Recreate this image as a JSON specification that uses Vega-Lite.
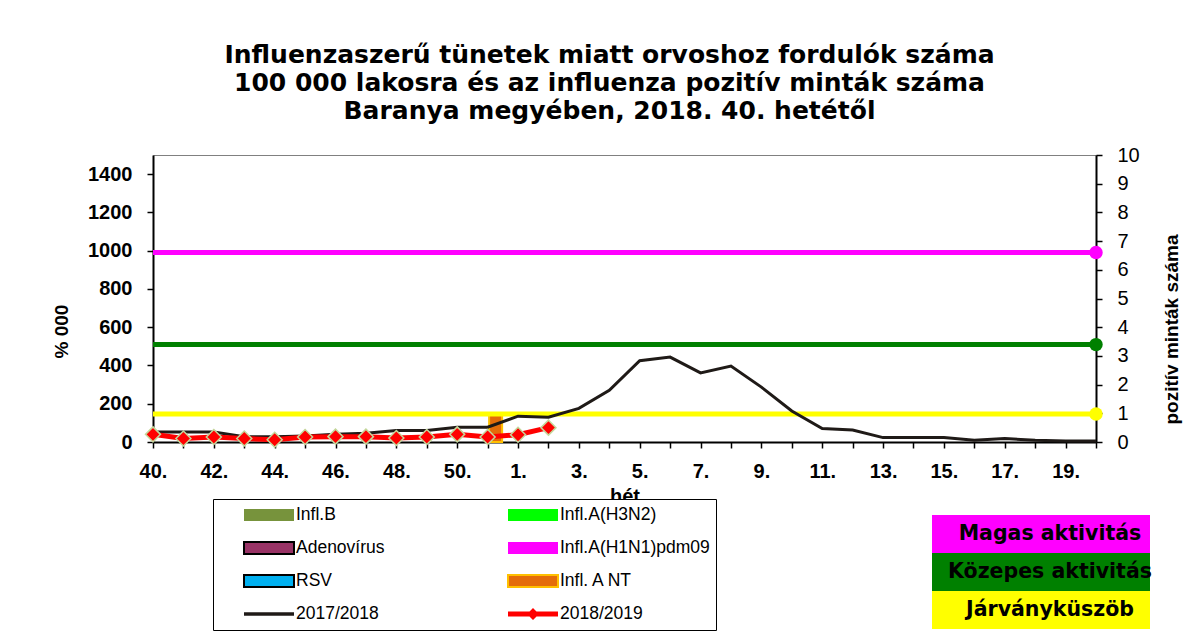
{
  "$schema": "https://vega.github.io/schema/vega-lite/v6.json",
  "width": 943,
  "height": 287,
  "autosize": {"type": "none"},
  "padding": {"left": 153, "top": 155, "right": 107, "bottom": 194},
  "background": "white",
  "config": {
    "font": "Liberation Sans",
    "view": {"stroke": "#808080", "strokeWidth": 1},
    "axis": {"labelFont": "Liberation Sans", "titleFont": "Liberation Sans", "labelColor": "black", "titleColor": "black", "domainColor": "black", "tickColor": "black", "grid": false, "domainWidth": 2, "tickWidth": 1.5}
  },
  "title": {
    "text": ["Influenzaszerű tünetek miatt orvoshoz fordulók száma", "100 000 lakosra és az influenza pozitív minták száma", "Baranya megyében, 2018. 40. hetétől"],
    "font": "DejaVu Sans", "fontSize": 25, "fontWeight": "bold", "color": "black", "lineHeight": 28, "anchor": "middle", "dx": -15, "offset": 21
  },
  "datasets": {
    "weekly": [
      {"week": "40.", "series": "2017/2018", "value": 52},
      {"week": "41.", "series": "2017/2018", "value": 52},
      {"week": "42.", "series": "2017/2018", "value": 52},
      {"week": "43.", "series": "2017/2018", "value": 27},
      {"week": "44.", "series": "2017/2018", "value": 27},
      {"week": "45.", "series": "2017/2018", "value": 32},
      {"week": "46.", "series": "2017/2018", "value": 40},
      {"week": "47.", "series": "2017/2018", "value": 46},
      {"week": "48.", "series": "2017/2018", "value": 60},
      {"week": "49.", "series": "2017/2018", "value": 60},
      {"week": "50.", "series": "2017/2018", "value": 77},
      {"week": "51.", "series": "2017/2018", "value": 77},
      {"week": "1.", "series": "2017/2018", "value": 135},
      {"week": "2.", "series": "2017/2018", "value": 130},
      {"week": "3.", "series": "2017/2018", "value": 176},
      {"week": "4.", "series": "2017/2018", "value": 270},
      {"week": "5.", "series": "2017/2018", "value": 425},
      {"week": "6.", "series": "2017/2018", "value": 444},
      {"week": "7.", "series": "2017/2018", "value": 361},
      {"week": "8.", "series": "2017/2018", "value": 397},
      {"week": "9.", "series": "2017/2018", "value": 287},
      {"week": "10.", "series": "2017/2018", "value": 162},
      {"week": "11.", "series": "2017/2018", "value": 70},
      {"week": "12.", "series": "2017/2018", "value": 63},
      {"week": "13.", "series": "2017/2018", "value": 23},
      {"week": "14.", "series": "2017/2018", "value": 23},
      {"week": "15.", "series": "2017/2018", "value": 23},
      {"week": "16.", "series": "2017/2018", "value": 9},
      {"week": "17.", "series": "2017/2018", "value": 18},
      {"week": "18.", "series": "2017/2018", "value": 9},
      {"week": "19.", "series": "2017/2018", "value": 5},
      {"week": "20.", "series": "2017/2018", "value": 5},
      {"week": "40.", "series": "2018/2019", "value": 40},
      {"week": "41.", "series": "2018/2019", "value": 18},
      {"week": "42.", "series": "2018/2019", "value": 26},
      {"week": "43.", "series": "2018/2019", "value": 18},
      {"week": "44.", "series": "2018/2019", "value": 12},
      {"week": "45.", "series": "2018/2019", "value": 26},
      {"week": "46.", "series": "2018/2019", "value": 28},
      {"week": "47.", "series": "2018/2019", "value": 28},
      {"week": "48.", "series": "2018/2019", "value": 21},
      {"week": "49.", "series": "2018/2019", "value": 26},
      {"week": "50.", "series": "2018/2019", "value": 40},
      {"week": "51.", "series": "2018/2019", "value": 26},
      {"week": "1.", "series": "2018/2019", "value": 38},
      {"week": "2.", "series": "2018/2019", "value": 75}
    ],
    "positive": [
      {"week": "51.", "series": "Infl. A NT", "n": 1}
    ],
    "thresholds": [
      {"level": "Magas aktivitás", "week": "40.", "value": 990},
      {"level": "Magas aktivitás", "week": "20.", "value": 990},
      {"level": "Közepes aktivitás", "week": "40.", "value": 509},
      {"level": "Közepes aktivitás", "week": "20.", "value": 509},
      {"level": "Járványküszöb", "week": "40.", "value": 146},
      {"level": "Járványküszöb", "week": "20.", "value": 146}
    ]
  },
  "layer": [
    {
      "data": {"name": "positive"},
      "mark": {"type": "bar", "width": 13, "xOffset": 8, "stroke": "#FFC000", "strokeWidth": 2},
      "encoding": {
        "x": {"field": "week", "type": "ordinal", "scale": {"type": "point", "padding": 0, "domain": ["40.","41.","42.","43.","44.","45.","46.","47.","48.","49.","50.","51.","1.","2.","3.","4.","5.","6.","7.","8.","9.","10.","11.","12.","13.","14.","15.","16.","17.","18.","19.","20."]}, "axis": {"orient": "bottom", "title": "hét", "titleFontSize": 20, "titleFontWeight": "bold", "titlePadding": 5, "labelExpr": "test(/^(40|42|44|46|48|50|1|3|5|7|9|11|13|15|17|19)\\.$/, datum.value) ? datum.value : ''", "labelFontSize": 20, "labelFontWeight": "bold", "labelAngle": 0, "labelPadding": 13, "labelOverlap": false, "tickSize": 6}},
        "y": {"field": "n", "type": "quantitative", "scale": {"domain": [0, 10]}, "axis": {"orient": "right", "values": [0,1,2,3,4,5,6,7,8,9,10], "title": "pozitív minták száma", "titleFontSize": 19, "titleFontWeight": "bold", "titleAngle": 270, "titleX": 75, "titleY": 174, "titleAlign": "center", "titleBaseline": "middle", "labelFontSize": 20, "labelFontWeight": "normal", "labelPadding": 15, "tickSize": 6}},
        "color": {"field": "series", "type": "nominal",
          "scale": {"domain": ["Infl.B","Adenovírus","RSV","2017/2018","Infl.A(H3N2)","Infl.A(H1N1)pdm09","Infl. A NT","2018/2019"], "range": ["#77933C","#993366","#00B0F0","#1F1A17","#00FF00","#FF00FF","#E46C0A","#FF0000"]},
          "legend": {"title": null, "orient": "none", "legendX": 60, "legendY": 344, "columns": 2, "padding": 6, "strokeColor": "black", "fillColor": "white", "symbolSize": 2500, "symbolStrokeWidth": 2, "symbolOffset": 24, "labelOffset": 1, "clipHeight": 20, "rowPadding": 13, "columnPadding": 98, "labelFont": "Liberation Sans", "labelFontSize": 17.5, "labelColor": "black", "labelLimit": 300,
            "symbolType": {"expr": "datum.value === '2017/2018' ? 'M-1,-0.07H1V0.07H-1Z' : datum.value === '2018/2019' ? 'M-1,-0.1H-0.14L0,-0.24L0.14,-0.1H1V0.1H0.14L0,0.24L-0.14,0.1H-1Z' : 'M-1,-0.24H1V0.24H-1Z'"},
            "symbolStrokeColor": {"expr": "datum.value === 'Adenovírus' || datum.value === 'RSV' ? 'black' : datum.value === 'Infl. A NT' ? '#FFC000' : 'transparent'"}
          }
        }
      }
    },
    {
      "layer": [
        {
          "data": {"name": "thresholds"},
          "mark": {"type": "line", "strokeWidth": 5},
          "encoding": {
            "x": {"field": "week", "type": "ordinal", "scale": {"type": "point", "padding": 0, "domain": ["40.","41.","42.","43.","44.","45.","46.","47.","48.","49.","50.","51.","1.","2.","3.","4.","5.","6.","7.","8.","9.","10.","11.","12.","13.","14.","15.","16.","17.","18.","19.","20."]}, "axis": {"orient": "bottom", "title": "hét", "titleFontSize": 20, "titleFontWeight": "bold", "titlePadding": 5, "labelExpr": "test(/^(40|42|44|46|48|50|1|3|5|7|9|11|13|15|17|19)\\.$/, datum.value) ? datum.value : ''", "labelFontSize": 20, "labelFontWeight": "bold", "labelAngle": 0, "labelPadding": 13, "labelOverlap": false, "tickSize": 6}},
            "y": {"field": "value", "type": "quantitative", "scale": {"domain": [0, 1500]}, "axis": {"orient": "left", "values": [0,200,400,600,800,1000,1200,1400], "format": "d", "title": "% 000", "titleFontSize": 19, "titleFontWeight": "bold", "titleAngle": 270, "titleX": -92, "titleY": 176, "titleAlign": "center", "titleBaseline": "middle", "labelFontSize": 20, "labelFontWeight": "bold", "labelPadding": 15, "tickSize": 6}},
            "stroke": {"field": "level", "type": "nominal", "scale": {"domain": ["Magas aktivitás","Közepes aktivitás","Járványküszöb"], "range": ["#FF00FF","#008000","#FFFF00"]}, "legend": null}
          }
        },
        {
          "data": {"name": "thresholds"},
          "transform": [{"filter": "datum.week === '20.'"}],
          "mark": {"type": "point", "filled": true, "opacity": 1, "size": 180, "shape": "circle"},
          "encoding": {
            "x": {"field": "week", "type": "ordinal", "scale": {"type": "point", "padding": 0, "domain": ["40.","41.","42.","43.","44.","45.","46.","47.","48.","49.","50.","51.","1.","2.","3.","4.","5.","6.","7.","8.","9.","10.","11.","12.","13.","14.","15.","16.","17.","18.","19.","20."]}, "axis": {"orient": "bottom", "title": "hét", "titleFontSize": 20, "titleFontWeight": "bold", "titlePadding": 5, "labelExpr": "test(/^(40|42|44|46|48|50|1|3|5|7|9|11|13|15|17|19)\\.$/, datum.value) ? datum.value : ''", "labelFontSize": 20, "labelFontWeight": "bold", "labelAngle": 0, "labelPadding": 13, "labelOverlap": false, "tickSize": 6}},
            "y": {"field": "value", "type": "quantitative", "scale": {"domain": [0, 1500]}, "axis": {"orient": "left", "values": [0,200,400,600,800,1000,1200,1400], "format": "d", "title": "% 000", "titleFontSize": 19, "titleFontWeight": "bold", "titleAngle": 270, "titleX": -92, "titleY": 176, "titleAlign": "center", "titleBaseline": "middle", "labelFontSize": 20, "labelFontWeight": "bold", "labelPadding": 15, "tickSize": 6}},
            "fill": {"field": "level", "type": "nominal", "scale": {"domain": ["Magas aktivitás","Közepes aktivitás","Járványküszöb"], "range": ["#FF00FF","#008000","#FFFF00"]},
              "legend": {"title": null, "orient": "none", "direction": "vertical", "legendX": 779, "legendY": 360, "padding": 0, "symbolType": "M-1,-0.1743H1V0.1743H-1Z", "symbolSize": 47524, "symbolStrokeWidth": 0, "symbolOpacity": 1, "clipHeight": 38, "rowPadding": 0, "labelOffset": -100, "labelAlign": "center", "labelFont": "DejaVu Sans", "labelFontWeight": "bold", "labelFontSize": 20.5, "labelColor": "black", "labelLimit": 300}
            }
          }
        },
        {
          "data": {"name": "weekly"},
          "transform": [{"filter": "datum.series === '2017/2018'"}],
          "mark": {"type": "line", "strokeWidth": 3, "color": "#1F1A17"},
          "encoding": {
            "x": {"field": "week", "type": "ordinal", "scale": {"type": "point", "padding": 0, "domain": ["40.","41.","42.","43.","44.","45.","46.","47.","48.","49.","50.","51.","1.","2.","3.","4.","5.","6.","7.","8.","9.","10.","11.","12.","13.","14.","15.","16.","17.","18.","19.","20."]}, "axis": {"orient": "bottom", "title": "hét", "titleFontSize": 20, "titleFontWeight": "bold", "titlePadding": 5, "labelExpr": "test(/^(40|42|44|46|48|50|1|3|5|7|9|11|13|15|17|19)\\.$/, datum.value) ? datum.value : ''", "labelFontSize": 20, "labelFontWeight": "bold", "labelAngle": 0, "labelPadding": 13, "labelOverlap": false, "tickSize": 6}},
            "y": {"field": "value", "type": "quantitative", "scale": {"domain": [0, 1500]}, "axis": {"orient": "left", "values": [0,200,400,600,800,1000,1200,1400], "format": "d", "title": "% 000", "titleFontSize": 19, "titleFontWeight": "bold", "titleAngle": 270, "titleX": -92, "titleY": 176, "titleAlign": "center", "titleBaseline": "middle", "labelFontSize": 20, "labelFontWeight": "bold", "labelPadding": 15, "tickSize": 6}}
          }
        },
        {
          "data": {"name": "weekly"},
          "transform": [{"filter": "datum.series === '2018/2019'"}],
          "mark": {"type": "line", "strokeWidth": 5, "color": "#FF0000"},
          "encoding": {
            "x": {"field": "week", "type": "ordinal", "scale": {"type": "point", "padding": 0, "domain": ["40.","41.","42.","43.","44.","45.","46.","47.","48.","49.","50.","51.","1.","2.","3.","4.","5.","6.","7.","8.","9.","10.","11.","12.","13.","14.","15.","16.","17.","18.","19.","20."]}, "axis": {"orient": "bottom", "title": "hét", "titleFontSize": 20, "titleFontWeight": "bold", "titlePadding": 5, "labelExpr": "test(/^(40|42|44|46|48|50|1|3|5|7|9|11|13|15|17|19)\\.$/, datum.value) ? datum.value : ''", "labelFontSize": 20, "labelFontWeight": "bold", "labelAngle": 0, "labelPadding": 13, "labelOverlap": false, "tickSize": 6}},
            "y": {"field": "value", "type": "quantitative", "scale": {"domain": [0, 1500]}, "axis": {"orient": "left", "values": [0,200,400,600,800,1000,1200,1400], "format": "d", "title": "% 000", "titleFontSize": 19, "titleFontWeight": "bold", "titleAngle": 270, "titleX": -92, "titleY": 176, "titleAlign": "center", "titleBaseline": "middle", "labelFontSize": 20, "labelFontWeight": "bold", "labelPadding": 15, "tickSize": 6}}
          }
        },
        {
          "data": {"name": "weekly"},
          "transform": [{"filter": "datum.series === '2018/2019'"}],
          "mark": {"type": "point", "shape": "diamond", "filled": true, "opacity": 1, "size": 225, "fill": "#FF0000", "stroke": "#C4D79B", "strokeWidth": 1.5},
          "encoding": {
            "x": {"field": "week", "type": "ordinal", "scale": {"type": "point", "padding": 0, "domain": ["40.","41.","42.","43.","44.","45.","46.","47.","48.","49.","50.","51.","1.","2.","3.","4.","5.","6.","7.","8.","9.","10.","11.","12.","13.","14.","15.","16.","17.","18.","19.","20."]}, "axis": {"orient": "bottom", "title": "hét", "titleFontSize": 20, "titleFontWeight": "bold", "titlePadding": 5, "labelExpr": "test(/^(40|42|44|46|48|50|1|3|5|7|9|11|13|15|17|19)\\.$/, datum.value) ? datum.value : ''", "labelFontSize": 20, "labelFontWeight": "bold", "labelAngle": 0, "labelPadding": 13, "labelOverlap": false, "tickSize": 6}},
            "y": {"field": "value", "type": "quantitative", "scale": {"domain": [0, 1500]}, "axis": {"orient": "left", "values": [0,200,400,600,800,1000,1200,1400], "format": "d", "title": "% 000", "titleFontSize": 19, "titleFontWeight": "bold", "titleAngle": 270, "titleX": -92, "titleY": 176, "titleAlign": "center", "titleBaseline": "middle", "labelFontSize": 20, "labelFontWeight": "bold", "labelPadding": 15, "tickSize": 6}}
          }
        }
      ]
    }
  ],
  "resolve": {"scale": {"y": "independent"}, "legend": {"fill": "independent"}}
}
